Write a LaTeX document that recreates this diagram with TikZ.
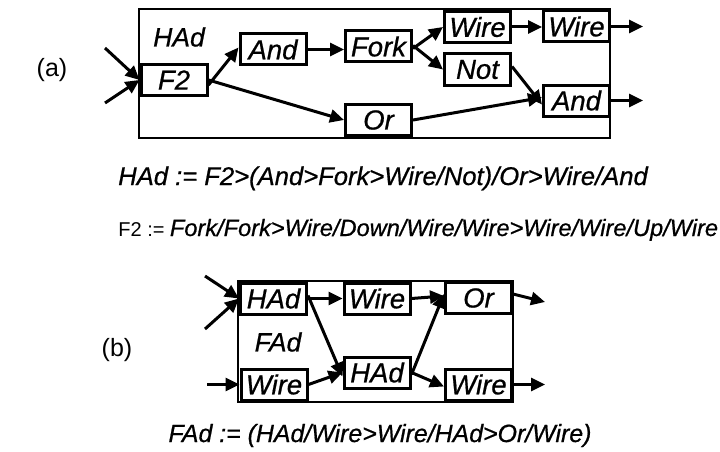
\documentclass[tikz,border=0pt]{standalone}
\usepackage{fontspec}
\setmainfont{Liberation Sans}
\newfontfamily\hvfont[FakeBold=0.7]{Liberation Sans}
\usetikzlibrary{arrows.meta}
\begin{document}
\begin{tikzpicture}[x=1pt,y=-1pt,
  blk/.style={draw, line width=3pt, fill=white, inner sep=0pt, minimum width=66pt, minimum height=31pt, font=\hvfont\fontsize{27.5}{30}\selectfont\itshape},
  frm/.style={draw, line width=1.6pt},
  arr/.style={line width=3pt, -{Triangle[length=14pt,width=13pt]}},
  lbl/.style={font=\hvfont\fontsize{26.5}{30}\selectfont\itshape, inner sep=0pt},
  tag/.style={font=\fontsize{25}{28}\selectfont, inner sep=0pt},
  eq/.style={inner sep=0pt, anchor=base},
]
\useasboundingbox (0,0) rectangle (720,452);
% ---------- (a) ----------
\draw[frm] (139,9) rectangle (610,138);
\node[tag] (ta) at (52,70) {(a)};
\node[lbl] (hadl) at (179,37) {HAd};
\node[blk] (F2) at (174,80) {F2};
\node[blk] (and1) at (273,49.5) {And};
\node[blk] (fork) at (378.5,46.5) {Fork};
\node[blk] (or1) at (378.5,120) {Or};
\node[blk] (wire1) at (477.5,27) {Wire};
\node[blk] (not) at (477.5,69.5) {Not};
\node[blk] (wire2) at (576.5,26.5) {Wire};
\node[blk] (and2) at (576.5,100.5) {And};
\coordinate (ia1) at (105,48);
\coordinate (ia2) at (105,103);
\coordinate (oa1) at (643,26.5);
\coordinate (oa2) at (643,100.5);
\draw[arr] (ia1) -- (F2.west);
\draw[arr] (ia2) -- (F2.west);
\draw[arr] ([yshift=-5pt]F2.east) -- ([yshift=2pt]and1.west);
\draw[arr] (F2.east) -- (or1.west);
\draw[arr] (and1.east) -- (fork.west |- and1.east);
\draw[arr] ([yshift=-2pt]fork.east) -- (wire1.west);
\draw[arr] ([yshift=1pt]fork.east) -- (not.west);
\draw[arr] (wire1.east) -- (wire2.west |- wire1.east);
\draw[arr] ([yshift=3pt]not.east) -- ([yshift=-4pt]and2.west);
\draw[arr] (or1.east) -- ([yshift=3pt]and2.west);
\draw[arr] (wire2.east) -- (oa1);
\draw[arr] (and2.east) -- (oa2);
% ---------- equations ----------
\node[eq, font=\hvfont\fontsize{25.6}{30}\selectfont\itshape] (eq1) at (383,185) {HAd := F2>(And>Fork>Wire/Not)/Or>Wire/And};
\node[eq, font=\hvfont\fontsize{23.6}{28}\selectfont\itshape] (eq2) at (444,236) {Fork/Fork>Wire/Down/Wire/Wire>Wire/Wire/Up/Wire};
\node[font=\fontsize{20}{24}\selectfont, inner sep=0pt, anchor=base east] (eq2a) at ([xshift=-5pt]eq2.base west) {F2 :=};
% ---------- (b) ----------
\draw[frm] (238,281) rectangle (513,402);
\node[tag] (tb) at (117,350) {(b)};
\node[lbl] (fadl) at (278,342) {FAd};
\node[blk] (had1) at (273.5,298.5) {HAd};
\node[blk] (wireb1) at (377,298.5) {Wire};
\node[blk] (orb) at (478.5,298) {Or};
\node[blk] (wireb2) at (274,384.5) {Wire};
\node[blk] (had2) at (377,372.5) {HAd};
\node[blk] (wireb3) at (478.5,384.5) {Wire};
\coordinate (ib1) at (205,276);
\coordinate (ib2) at (205,329);
\coordinate (ib3) at (207,384.5);
\coordinate (ob1) at (545,302);
\coordinate (ob2) at (545,384.5);
\draw[arr] (ib1) -- (had1.west);
\draw[arr] (ib2) -- (had1.west);
\draw[arr] (ib3) -- (wireb2.west);
\draw[arr] (had1.east) -- (wireb1.west);
\draw[arr] (wireb1.east) -- ([yshift=2pt]orb.west);
\draw[arr] ([yshift=3pt]had1.east) -- ([yshift=-4pt]had2.west);
\draw[arr] (wireb2.east) -- (had2.west);
\draw[arr] ([yshift=-2pt]had2.east) -- ([yshift=4pt]orb.west);
\draw[arr] (had2.east) -- ([yshift=-2pt]wireb3.west);
\draw[arr] ([yshift=4pt]orb.east) -- (ob1);
\draw[arr] (wireb3.east) -- (ob2);
\node[eq, font=\hvfont\fontsize{24.9}{30}\selectfont\itshape] (eq3) at (380,442) {FAd := (HAd/Wire>Wire/HAd>Or/Wire)};
\end{tikzpicture}
\end{document}
